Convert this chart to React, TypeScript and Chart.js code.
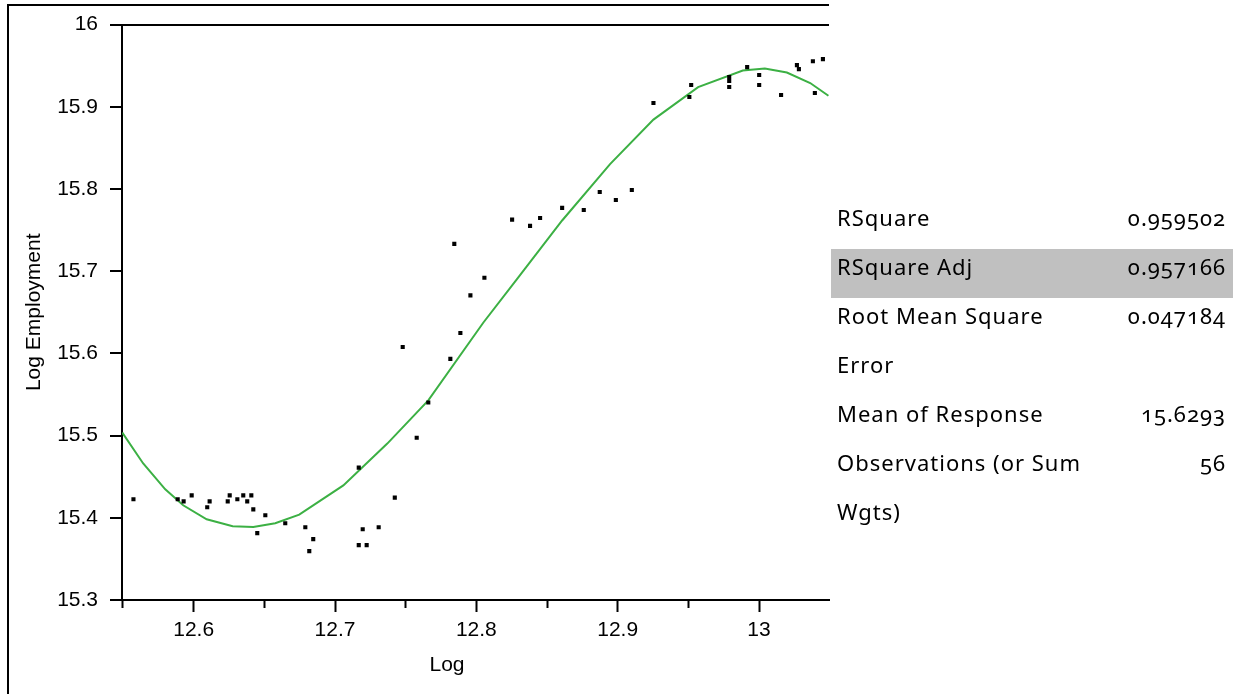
import React, { useEffect, useRef } from "react";
import { Chart, registerables } from "chart.js";

Chart.register(...registerables);

// Observed data (Log vs Log Employment)
const logX = [
  12.5574, 12.5887, 12.5929, 12.5986, 12.6096, 12.6113, 12.6241, 12.6255, 12.6309, 12.6351,
  12.6379, 12.6408, 12.6422, 12.645, 12.6507, 12.6648, 12.679, 12.6846, 12.6818, 12.7168,
  12.7196, 12.7168, 12.7224, 12.7309, 12.7423, 12.7578, 12.7479, 12.766, 12.7816, 12.7887,
  12.7958, 12.8057, 12.7844, 12.8253, 12.838, 12.8451, 12.8607, 12.876, 12.8873, 12.8987,
  12.91, 12.9253, 12.952, 12.9507, 12.9789, 12.9789, 12.9789, 12.9916, 13.0001, 13.0001,
  13.0156, 13.0268, 13.0282, 13.0381, 13.0452, 13.0395,
];
const logEmployment = [
  15.4225, 15.4225, 15.42, 15.4273, 15.4128, 15.42, 15.42, 15.4273, 15.4225, 15.4273,
  15.42, 15.4273, 15.4103, 15.3813, 15.4031, 15.3934, 15.3885, 15.374, 15.3595, 15.461,
  15.3861, 15.3667, 15.3667, 15.3885, 15.4246, 15.4973, 15.6078, 15.5403, 15.5933, 15.6248,
  15.6706, 15.6921, 15.7333, 15.7627, 15.7551, 15.7648, 15.777, 15.7745, 15.7963, 15.7866,
  15.7988, 15.9047, 15.9265, 15.9119, 15.9362, 15.9313, 15.924, 15.9483, 15.9386, 15.9265,
  15.9143, 15.9507, 15.9458, 15.9555, 15.958, 15.9168,
];

// Fitted curve
const fitX = [
  12.5495, 12.5643, 12.5799, 12.5926, 12.6092, 12.6276, 12.6422, 12.6577, 12.6747, 12.7059,
  12.737, 12.766, 12.805, 12.8286, 12.8607, 12.8946, 12.9253, 12.9569, 12.9885, 13.0041,
  13.0197, 13.0362, 13.0491,
];
const fitY = [
  15.5036, 15.4661, 15.4346, 15.4152, 15.3982, 15.3898, 15.3889, 15.3934, 15.4038, 15.4394,
  15.4903, 15.5428, 15.6376, 15.69, 15.7617, 15.8303, 15.8844, 15.924, 15.9441, 15.9466,
  15.9417, 15.9289, 15.9135,
];

const xTickValues = [12.55, 12.6, 12.65, 12.7, 12.75, 12.8, 12.85, 12.9, 12.95, 13];
const xMajorTicks = [12.6, 12.7, 12.8, 12.9, 13];
const yTickValues = [15.3, 15.4, 15.5, 15.6, 15.7, 15.8, 15.9, 16];

const xTitle = "Log";
const yTitle = "Log Employment";

const statLabels = [
  "RSquare",
  "RSquare Adj",
  "Root Mean Square Error",
  "Mean of Response",
  "Observations (or Sum Wgts)",
];
const statValues = ["0.959502", "0.957166", "0.047184", "15.6293", "56"];
const statLines = [1, 1, 2, 1, 2];
const highlightRow = 1;

const X_MIN = 12.5493;
const X_MAX = 13.0495;
const Y_MIN = 15.3;
const Y_MAX = 16;

const AXIS_FAMILY = "'Liberation Sans', Arial, sans-serif";
const AXIS_SIZE = 21;

const isMajor = (v: number) => xMajorTicks.some((m) => Math.abs(m - v) < 1e-6);
const fmt = (v: number) => String(Number(Number(v).toFixed(2)));

export default function App() {
  const canvasRef = useRef<HTMLCanvasElement>(null);

  useEffect(() => {
    const canvas = canvasRef.current;
    if (!canvas) return;
    const pts = logX.map((x, i) => ({ x, y: logEmployment[i] }));
    const fit = fitX.map((x, i) => ({ x, y: fitY[i] }));
    const axisFont = { family: AXIS_FAMILY, size: AXIS_SIZE };

    const chart = new Chart(canvas, {
      type: "scatter",
      data: {
        datasets: [
          {
            label: "Log Employment",
            data: pts,
            pointStyle: "rect",
            pointRadius: 2.9,
            pointBackgroundColor: "#000",
            pointBorderWidth: 0,
            showLine: false,
            order: 0,
          } as any,
          {
            type: "line",
            label: "Fit",
            data: fit,
            borderColor: "#3cb044",
            borderWidth: 2,
            pointRadius: 0,
            tension: 0,
            fill: false,
            order: 1,
          } as any,
        ],
      },
      options: {
        responsive: false,
        animation: false,
        devicePixelRatio: 1,
        events: [],
        layout: { padding: { top: 23, right: 414, left: 0, bottom: 0 } },
        plugins: { legend: { display: false }, tooltip: { enabled: false } },
        scales: {
          x: {
            type: "linear",
            min: X_MIN,
            max: X_MAX,
            afterBuildTicks: (s: any) => {
              s.ticks = xTickValues.map((v) => ({ value: v }));
            },
            afterFit: (s: any) => {
              s.height = 94;
            },
            ticks: {
              autoSkip: false,
              maxRotation: 0,
              minRotation: 0,
              padding: 6,
              color: "#000",
              font: axisFont,
              callback: (v: any) => (isMajor(Number(v)) ? fmt(Number(v)) : ""),
            },
            grid: {
              drawOnChartArea: false,
              tickLength: 12,
              tickWidth: 2,
              tickColor: "#000",
              tickBorderDash: (ctx: any) =>
                ctx.tick && !isMajor(ctx.tick.value) ? [7, 30] : [],
            },
            border: { display: true, color: "#000", width: 2 },
            title: { display: false },
          },
          y: {
            type: "linear",
            min: Y_MIN,
            max: Y_MAX,
            afterBuildTicks: (s: any) => {
              s.ticks = yTickValues.map((v) => ({ value: v }));
            },
            afterFit: (s: any) => {
              s.width = 122;
            },
            ticks: {
              autoSkip: false,
              padding: 12,
              color: "#000",
              font: axisFont,
              callback: (v: any) => fmt(Number(v)),
            },
            grid: {
              drawOnChartArea: true,
              lineWidth: 2,
              color: (ctx: any) =>
                ctx.tick && Math.abs(ctx.tick.value - Y_MAX) < 1e-6 ? "#000" : "rgba(0,0,0,0)",
              tickLength: 12,
              tickWidth: 2,
              tickColor: "#000",
            },
            border: { display: true, color: "#000", width: 2 },
            title: {
              display: true,
              text: yTitle,
              color: "#000",
              font: axisFont,
              padding: { top: 22, bottom: 0 },
            },
          },
        },
      } as any,
    });
    return () => chart.destroy();
  }, []);

  return (
    <div
      style={{
        position: "absolute",
        left: 0,
        top: 0,
        width: 1243,
        height: 694,
        background: "#fff",
        overflow: "hidden",
      }}
    >
      <div
        style={{
          position: "absolute",
          left: 7,
          top: 4,
          width: 822,
          height: 700,
          borderTop: "2px solid #000",
          borderLeft: "2px solid #000",
          boxSizing: "border-box",
        }}
      />
      <canvas
        ref={canvasRef}
        width={1243}
        height={694}
        style={{ position: "absolute", left: 0, top: 0, width: 1243, height: 694 }}
      />
      <div
        style={{
          position: "absolute",
          left: 347,
          top: 650,
          width: 200,
          textAlign: "center",
          fontFamily: AXIS_FAMILY,
          fontSize: AXIS_SIZE,
          lineHeight: "28px",
          color: "#000",
        }}
      >
        {xTitle}
      </div>
      <div
        style={{
          position: "absolute",
          left: 831,
          top: 200,
          width: 402,
          fontFamily: "'Noto Sans', sans-serif",
          fontSize: 22,
          letterSpacing: "1px",
          color: "#000",
          fontVariantNumeric: "oldstyle-nums",
        }}
      >
        {statLabels.map((label, i) => (
          <div
            key={label}
            style={{
              display: "grid",
              gridTemplateColumns: "255px 1fr",
              height: statLines[i] * 49,
              lineHeight: "49px",
              padding: "0 7px 0 6px",
              background: i === highlightRow ? "#c0c0c0" : "transparent",
              overflow: "hidden",
            }}
          >
            <div style={{ position: "relative", top: -7 }}>{label}</div>
            <div style={{ position: "relative", top: -7, textAlign: "right" }}>
              {statValues[i]}
            </div>
          </div>
        ))}
      </div>
    </div>
  );
}
